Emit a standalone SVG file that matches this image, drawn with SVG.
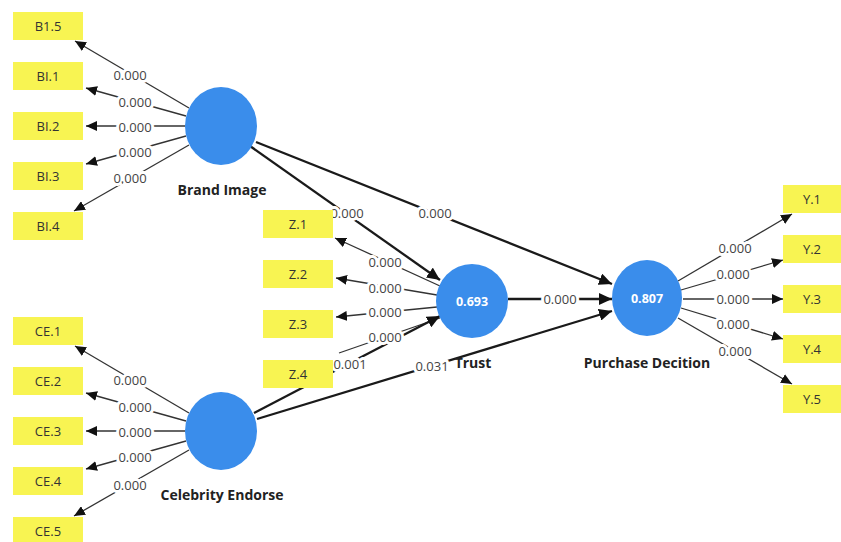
<svg xmlns="http://www.w3.org/2000/svg" width="841" height="542" viewBox="0 0 841 542">
<style>
.ind{stroke:#333;stroke-width:1.3;fill:none}
.str{stroke:#1a1a1a;stroke-width:2.3;fill:none}
.box{fill:#F8F452}
.bt{font-family:"Open Sans","Noto Sans",sans-serif;font-size:13px;fill:#333;text-anchor:middle;dominant-baseline:central}
.lv{font-family:"Open Sans","Noto Sans",sans-serif;font-size:13px;fill:#444;text-anchor:middle;dominant-baseline:central;paint-order:stroke;stroke:#fff;stroke-width:6px;stroke-linejoin:round}
.lat{fill:#3A8DEB}
.nl{font-family:"Open Sans","Noto Sans",sans-serif;font-size:14px;font-weight:bold;fill:#222;text-anchor:middle;dominant-baseline:central}
.cv{font-family:"Open Sans","Noto Sans",sans-serif;font-size:12.5px;font-weight:bold;fill:#fff;text-anchor:middle;dominant-baseline:central}
</style>
<defs>
<marker id="a" markerUnits="userSpaceOnUse" markerWidth="12" markerHeight="10" refX="11" refY="5" orient="auto"><path d="M0,0 L11,5 L0,10 Z" fill="#111"/></marker>
<marker id="A" markerUnits="userSpaceOnUse" markerWidth="14" markerHeight="12" refX="13" refY="6" orient="auto"><path d="M0,0 L13,6 L0,12 Z" fill="#111"/></marker>
</defs>
<rect width="841" height="542" fill="#fff"/>
<g id="connectors">
<line class="ind" x1="189" y1="108" x2="75" y2="41" marker-end="url(#a)"/>
<line class="ind" x1="186" y1="116" x2="86" y2="88" marker-end="url(#a)"/>
<line class="ind" x1="185" y1="126" x2="86" y2="126" marker-end="url(#a)"/>
<line class="ind" x1="186" y1="136" x2="86" y2="164" marker-end="url(#a)"/>
<line class="ind" x1="189" y1="145" x2="74" y2="211" marker-end="url(#a)"/>
<line class="ind" x1="189" y1="413" x2="75" y2="346" marker-end="url(#a)"/>
<line class="ind" x1="186" y1="421" x2="86" y2="393" marker-end="url(#a)"/>
<line class="ind" x1="185" y1="431" x2="86" y2="431" marker-end="url(#a)"/>
<line class="ind" x1="186" y1="441" x2="86" y2="469" marker-end="url(#a)"/>
<line class="ind" x1="189" y1="450" x2="74" y2="516" marker-end="url(#a)"/>
<line class="ind" x1="440" y1="286" x2="335" y2="238" marker-end="url(#a)"/>
<line class="ind" x1="437" y1="295" x2="336" y2="278" marker-end="url(#a)"/>
<line class="ind" x1="437" y1="307" x2="336" y2="317" marker-end="url(#a)"/>
<line class="ind" x1="440" y1="318" x2="339" y2="353"/>
<line class="ind" x1="678" y1="281" x2="792" y2="214" marker-end="url(#a)"/>
<line class="ind" x1="681" y1="290" x2="783" y2="260" marker-end="url(#a)"/>
<line class="ind" x1="683" y1="299" x2="783" y2="299" marker-end="url(#a)"/>
<line class="ind" x1="681" y1="308" x2="783" y2="339" marker-end="url(#a)"/>
<line class="ind" x1="678" y1="318" x2="792" y2="384" marker-end="url(#a)"/>
<line class="str" x1="250" y1="146" x2="440" y2="280" marker-end="url(#A)"/>
<line class="str" x1="256" y1="142" x2="612" y2="284" marker-end="url(#A)"/>
<line class="str" x1="508" y1="299" x2="612" y2="299" marker-end="url(#A)"/>
<line class="str" x1="254" y1="413" x2="440" y2="316" marker-end="url(#A)"/>
<line class="str" x1="257" y1="419" x2="612" y2="311" marker-end="url(#A)"/>
<text class="lv" x="130" y="75">0.000</text>
<text class="lv" x="135" y="102">0.000</text>
<text class="lv" x="135" y="127">0.000</text>
<text class="lv" x="135" y="152">0.000</text>
<text class="lv" x="130" y="178">0.000</text>
<text class="lv" x="130" y="380">0.000</text>
<text class="lv" x="135" y="407">0.000</text>
<text class="lv" x="135" y="432">0.000</text>
<text class="lv" x="135" y="457">0.000</text>
<text class="lv" x="130" y="485">0.000</text>
<text class="lv" x="385" y="262">0.000</text>
<text class="lv" x="385" y="288">0.000</text>
<text class="lv" x="385" y="312">0.000</text>
<text class="lv" x="385" y="337">0.000</text>
<text class="lv" x="735" y="248">0.000</text>
<text class="lv" x="733" y="274">0.000</text>
<text class="lv" x="733" y="299">0.000</text>
<text class="lv" x="733" y="324">0.000</text>
<text class="lv" x="735" y="351">0.000</text>
<text class="lv" x="347" y="213">0.000</text>
<text class="lv" x="435" y="213">0.000</text>
<text class="lv" x="560" y="299">0.000</text>
<text class="lv" x="350" y="364">0.001</text>
<text class="lv" x="432" y="366">0.031</text>
</g>
<g id="B1.5"><rect class="box" x="13" y="12" width="70" height="28"/><text class="bt" x="48" y="26">B1.5</text></g>
<g id="BI.1"><rect class="box" x="13" y="62" width="70" height="28"/><text class="bt" x="48" y="76">BI.1</text></g>
<g id="BI.2"><rect class="box" x="13" y="112" width="70" height="28"/><text class="bt" x="48" y="126">BI.2</text></g>
<g id="BI.3"><rect class="box" x="13" y="162" width="70" height="28"/><text class="bt" x="48" y="176">BI.3</text></g>
<g id="BI.4"><rect class="box" x="13" y="212" width="70" height="28"/><text class="bt" x="48" y="226">BI.4</text></g>
<g id="CE.1"><rect class="box" x="13" y="317" width="70" height="28"/><text class="bt" x="48" y="331">CE.1</text></g>
<g id="CE.2"><rect class="box" x="13" y="367" width="70" height="28"/><text class="bt" x="48" y="381">CE.2</text></g>
<g id="CE.3"><rect class="box" x="13" y="417" width="70" height="28"/><text class="bt" x="48" y="431">CE.3</text></g>
<g id="CE.4"><rect class="box" x="13" y="467" width="70" height="28"/><text class="bt" x="48" y="481">CE.4</text></g>
<g id="CE.5"><rect class="box" x="13" y="517" width="70" height="28"/><text class="bt" x="48" y="531">CE.5</text></g>
<g id="Z.1"><rect class="box" x="263" y="210" width="70" height="28"/><text class="bt" x="298" y="224">Z.1</text></g>
<g id="Z.2"><rect class="box" x="263" y="260" width="70" height="28"/><text class="bt" x="298" y="274">Z.2</text></g>
<g id="Z.3"><rect class="box" x="263" y="310" width="70" height="28"/><text class="bt" x="298" y="324">Z.3</text></g>
<g id="Z.4"><rect class="box" x="263" y="360" width="70" height="28"/><text class="bt" x="298" y="374">Z.4</text></g>
<g id="Y.1"><rect class="box" x="783" y="185" width="58" height="28"/><text class="bt" x="812" y="199">Y.1</text></g>
<g id="Y.2"><rect class="box" x="783" y="235" width="58" height="28"/><text class="bt" x="812" y="249">Y.2</text></g>
<g id="Y.3"><rect class="box" x="783" y="285" width="58" height="28"/><text class="bt" x="812" y="299">Y.3</text></g>
<g id="Y.4"><rect class="box" x="783" y="335" width="58" height="28"/><text class="bt" x="812" y="349">Y.4</text></g>
<g id="Y.5"><rect class="box" x="783" y="385" width="58" height="28"/><text class="bt" x="812" y="399">Y.5</text></g>
<g id="BrandImage"><ellipse class="lat" cx="221" cy="126" rx="36" ry="39"/><text class="nl" x="222" y="189">Brand Image</text></g>
<g id="CelebrityEndorse"><ellipse class="lat" cx="221" cy="431" rx="36" ry="39"/><text class="nl" x="222" y="494">Celebrity Endorse</text></g>
<g id="Trust"><ellipse class="lat" cx="472" cy="301" rx="36" ry="37"/><text class="cv" x="472" y="301">0.693</text><text class="nl" x="473" y="362">Trust</text></g>
<g id="PurchaseDecition"><ellipse class="lat" cx="647" cy="298" rx="35" ry="38"/><text class="cv" x="647" y="298">0.807</text><text class="nl" x="647" y="362">Purchase Decition</text></g>
</svg>
